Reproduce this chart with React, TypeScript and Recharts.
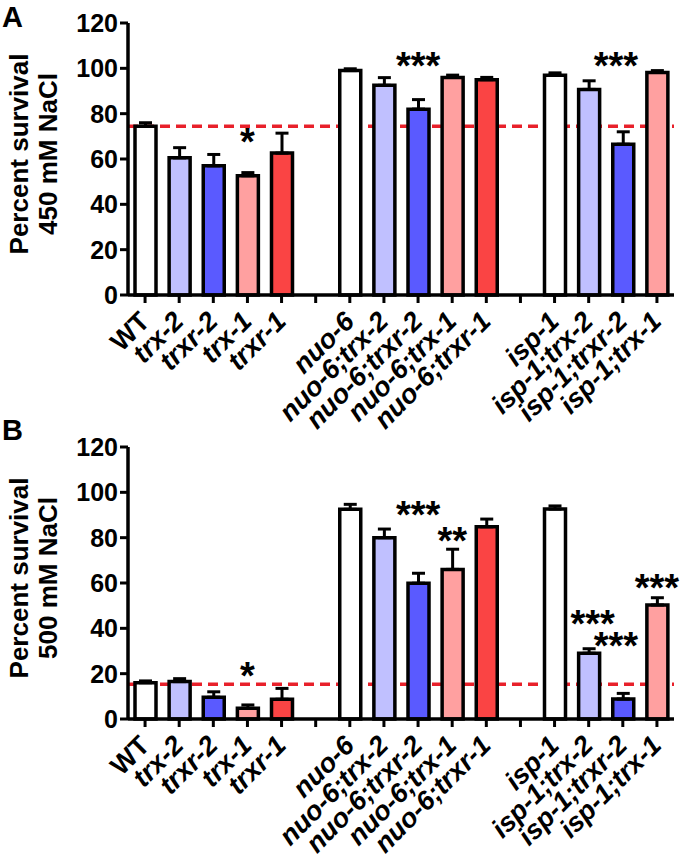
import React from 'react';
import {
  Bar,
  BarChart,
  Cell,
  ErrorBar,
  ReferenceDot,
  ReferenceLine,
  XAxis,
  YAxis,
} from 'recharts';

// slot keys along the x axis; gap-* entries are empty spacer slots
const strainKeys = [
  'WT', 'trx-2', 'trxr-2', 'trx-1', 'trxr-1', 'gap-1',
  'nuo-6', 'nuo-6;trx-2', 'nuo-6;trxr-2', 'nuo-6;trx-1', 'nuo-6;trxr-1', 'gap-2',
  'isp-1', 'isp-1;trx-2', 'isp-1;trxr-2', 'isp-1;trx-1',
];

const barColors = [
  '#ffffff', '#c0c0ff', '#5a5aff', '#ffa0a0', '#fa4444', 'none',
  '#ffffff', '#c0c0ff', '#5a5aff', '#ffa0a0', '#fa4444', 'none',
  '#ffffff', '#c0c0ff', '#5a5aff', '#ffa0a0',
];

const survival450 = [74.5, 60.5, 57, 52.6, 62.6, null, 99, 92.5, 82, 96, 95, null, 97, 90.7, 66.5, 98.2];
const sem450 = [1.5, 4.5, 5, 1.4, 8.8, null, 0.8, 3.4, 4.2, 1, 1, null, 1, 3.8, 5.5, 0.8];

const survival500 = [16, 16.5, 9.6, 4.7, 8.7, null, 92.5, 80, 59.9, 66, 84.8, null, 92.6, 29, 8.8, 50.3];
const sem500 = [0.8, 1.3, 2.4, 1.5, 4.8, null, 2.2, 3.8, 4.4, 8.9, 3.4, null, 1.4, 2, 2.5, 3.2];

const wtLevel450 = 74.4;
const wtLevel500 = 15.3;

const yTicks = [0, 20, 40, 60, 80, 100, 120];

const stars450 = [
  { at: 'trx-1', y: 70.6, text: '*' },
  { at: 'nuo-6;trxr-2', y: 104.5, text: '***' },
  { at: 'isp-1;trxr-2', y: 104.5, text: '***' },
];

const stars500 = [
  { at: 'trx-1', y: 22.5, text: '*' },
  { at: 'nuo-6;trxr-2', y: 93.5, text: '***' },
  { at: 'nuo-6;trx-1', y: 82, text: '**' },
  { at: 'isp-1;trx-2', y: 45.4, text: '***' },
  { at: 'isp-1;trxr-2', y: 35.7, text: '***' },
  { at: 'isp-1;trx-1', y: 60.9, text: '***' },
];

// small horizontal nudges so neighbouring stars don't collide
const starNudge: Record<string, number> = {
  'isp-1;trx-2': 4,
  'isp-1;trxr-2': -7,
};

const FONT = '"Liberation Sans", Arial, sans-serif';
const PLOT_H = 272;

function StrainTick({ x, y, payload }: any) {
  const key = String(payload.value);
  if (key.startsWith('gap')) return null;
  const ax = x + 6;
  const ay = y + 18;
  return (
    <text
      x={ax}
      y={ay}
      transform={`rotate(-45 ${ax} ${ay})`}
      textAnchor="end"
      fontSize={27}
      fontWeight="bold"
      fontStyle={key === 'WT' ? 'normal' : 'italic'}
      fontFamily={FONT}
      fill="#000"
    >
      {key}
    </text>
  );
}

function YTitle({ viewBox, lines }: any) {
  const cy = viewBox.y + viewBox.height / 2 - 5;
  const xs = [28, 57];
  return (
    <g>
      {lines.map((line: string, i: number) => (
        <text
          key={line}
          x={xs[i]}
          y={cy}
          transform={`rotate(-90 ${xs[i]} ${cy})`}
          textAnchor="middle"
          fontSize={26}
          fontWeight="bold"
          fontFamily={FONT}
          fill="#000"
        >
          {line}
        </text>
      ))}
    </g>
  );
}

function StarLabel({ viewBox, text, dx }: any) {
  const fs = 38;
  return (
    <text
      x={viewBox.x + dx}
      y={viewBox.y + fs * 0.54}
      textAnchor="middle"
      fontSize={fs}
      fontWeight="bold"
      fontFamily={FONT}
      fill="#000"
    >
      {text}
    </text>
  );
}

interface PanelProps {
  values: (number | null)[];
  sem: (number | null)[];
  wtLevel: number;
  stars: { at: string; y: number; text: string }[];
  title: string[];
  height: number;
  top: number;
}

function SurvivalPanel({ values, sem, wtLevel, stars, title, height, top }: PanelProps) {
  const rows = strainKeys.map((key, i) => ({
    key,
    v: values[i],
    err: sem[i] === null ? null : [0, sem[i]],
  }));

  return (
    <BarChart
      width={688}
      height={height}
      data={rows}
      margin={{ top, right: 14, left: 0, bottom: 0 }}
    >
      <XAxis
        dataKey="key"
        interval={0}
        height={height - top - PLOT_H}
        tick={<StrainTick />}
        tickSize={8}
        tickLine={{ stroke: '#000', strokeWidth: 3 }}
        axisLine={{ stroke: '#000', strokeWidth: 3.5 }}
      />
      <YAxis
        width={128}
        domain={[0, 120]}
        ticks={yTicks}
        interval={0}
        tickSize={8}
        tickLine={{ stroke: '#000', strokeWidth: 3 }}
        axisLine={{ stroke: '#000', strokeWidth: 3.5 }}
        tick={{ fill: '#000', fontSize: 25, fontWeight: 'bold', fontFamily: FONT }}
        label={<YTitle lines={title} />}
      />
      <ReferenceLine
        y={wtLevel}
        stroke="#e8202a"
        strokeWidth={3.5}
        strokeDasharray="10 6"
        zIndex={0}
      />
      <Bar dataKey="v" barSize={21} stroke="#000" strokeWidth={3.5} isAnimationActive={false}>
        {rows.map((row, i) => (
          <Cell
            key={row.key}
            fill={barColors[i]}
            stroke={barColors[i] === 'none' ? 'none' : '#000'}
          />
        ))}
        <ErrorBar dataKey="err" width={6.5} strokeWidth={3} stroke="#000" direction="y" />
      </Bar>
      {stars.map((s) => (
        <ReferenceDot
          key={s.at}
          x={s.at}
          y={s.y}
          r={0}
          fill="none"
          stroke="none"
          label={<StarLabel text={s.text} dx={starNudge[s.at] ?? 0} />}
        />
      ))}
    </BarChart>
  );
}

const letterStyle: React.CSSProperties = {
  position: 'absolute',
  left: 2,
  fontFamily: FONT,
  fontWeight: 'bold',
  fontSize: 29,
  lineHeight: 1,
};

export default function App() {
  return (
    <div style={{ position: 'absolute', left: 0, top: 0, width: 688, height: 863, background: '#fff' }}>
      <div style={{ position: 'absolute', left: 0, top: 0 }}>
        <SurvivalPanel
          values={survival450}
          sem={sem450}
          wtLevel={wtLevel450}
          stars={stars450}
          title={['Percent survival', '450 mM NaCl']}
          height={450}
          top={23}
        />
      </div>
      <div style={{ position: 'absolute', left: 0, top: 420 }}>
        <SurvivalPanel
          values={survival500}
          sem={sem500}
          wtLevel={wtLevel500}
          stars={stars500}
          title={['Percent survival', '500 mM NaCl']}
          height={443}
          top={27}
        />
      </div>
      <div style={{ ...letterStyle, top: 3 }}>A</div>
      <div style={{ ...letterStyle, top: 416 }}>B</div>
    </div>
  );
}
